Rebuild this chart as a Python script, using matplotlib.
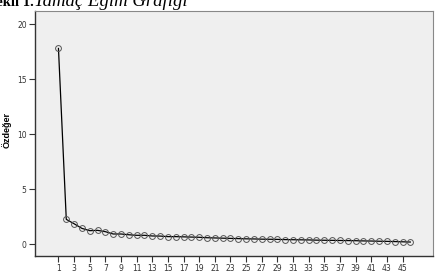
import numpy as np
import matplotlib
matplotlib.use("Agg")
import matplotlib.pyplot as plt

# Datos del grafico de sedimentacion (autovalores por componente)
componentes = list(range(1, 47))
ozdeger = [17.8, 2.27, 1.87, 1.45, 1.24, 1.27, 1.15, 0.94, 0.94, 0.87,
           0.82, 0.82, 0.76, 0.75, 0.70, 0.70, 0.68, 0.66, 0.64, 0.60,
           0.58, 0.56, 0.54, 0.52, 0.50, 0.49, 0.47, 0.46, 0.45, 0.43,
           0.42, 0.41, 0.40, 0.38, 0.37, 0.36, 0.35, 0.34, 0.33, 0.31,
           0.30, 0.28, 0.27, 0.25, 0.23, 0.21]
xticks = list(range(1, 46, 2))
yticks = [0, 5, 10, 15, 20]

fig = plt.figure(figsize=(4.36, 2.75), dpi=100)
ax = fig.add_axes([35/436, 19/275, 398/436, 245/275])
ax.set_facecolor("#efefef")

ax.plot(componentes, ozdeger, color="black", lw=0.9, marker="o", ms=4.2,
        mfc="none", mec="#555555", mew=0.7)

ax.set_xlim(-2, 48.9)
ax.set_ylim(-1.06, 21.2)
ax.set_xticks(xticks)
ax.set_yticks(yticks)
ax.tick_params(labelsize=5.5, length=4, width=0.8, colors="#333333", pad=2)

for lado in ("top", "right"):
    ax.spines[lado].set_color("#888888")
    ax.spines[lado].set_linewidth(0.8)
for lado in ("left", "bottom"):
    ax.spines[lado].set_color("#333333")
    ax.spines[lado].set_linewidth(1.0)

ax.set_ylabel("Özdeğer", fontsize=6.5, fontweight="bold", family="Liberation Sans")
ax.yaxis.set_label_coords(-0.058, 0.516)

# Titulo cortado arriba: parte en negrita y parte en cursiva
xt = 34 / 436
fig.text(xt, 0.978, "Şekil 1.", fontsize=10.5, fontweight="bold",
         family="Liberation Serif", va="baseline", ha="right")
fig.text(xt, 0.978, "Tamaç Eğim Grafiği", fontsize=13.5, style="italic",
         family="Liberation Serif", va="baseline", ha="left")

fig.savefig("out.png", dpi=100)
